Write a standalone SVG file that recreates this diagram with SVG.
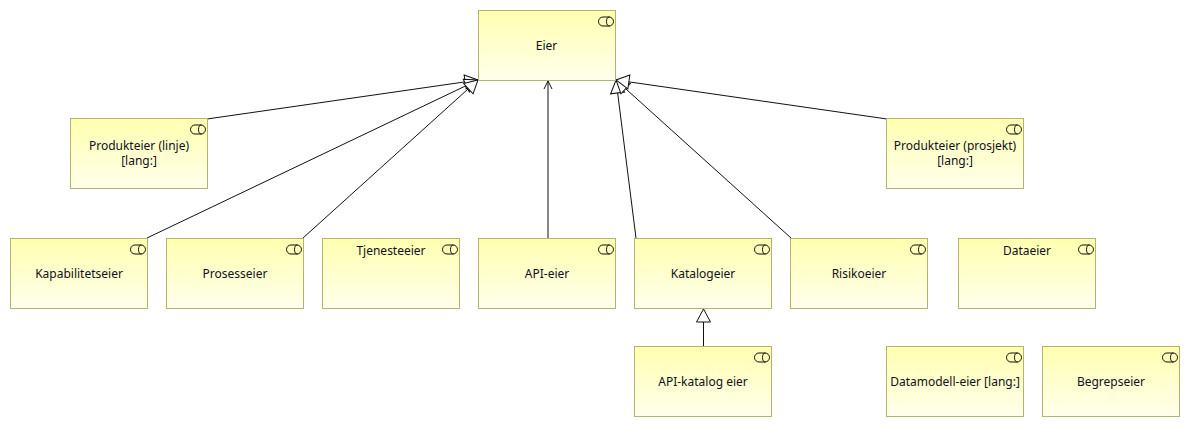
<svg xmlns="http://www.w3.org/2000/svg" width="1190" height="427" viewBox="0 0 1190 427">
<style>
.box{fill:url(#g);stroke:#b4b46e;stroke-width:1}
.ic{fill:none;stroke:#111;stroke-width:1}
.t{font-family:"Noto Sans","DejaVu Sans",sans-serif;font-size:12px;fill:#101020;text-anchor:middle}
.c{fill:none;stroke:#111;stroke-width:1}
</style>
<defs>
<linearGradient id="g" x1="0" y1="0" x2="0" y2="1"><stop offset="0" stop-color="#ffffb0"/><stop offset="1" stop-color="#ffffec"/></linearGradient>
<marker id="tri" markerUnits="userSpaceOnUse" markerWidth="16" markerHeight="18" refX="13" refY="8" orient="auto" overflow="visible"><path d="M0 1L13 8L0 15Z" fill="#fff" stroke="#111" stroke-width="1"/></marker>
<marker id="open" markerUnits="userSpaceOnUse" markerWidth="10" markerHeight="12" refX="8" refY="5" orient="auto" overflow="visible"><path d="M0 1L8 5L0 9" fill="none" stroke="#111" stroke-width="1"/></marker>
<g id="ico"><rect class="ic" x="-14.5" y="-4.5" width="15" height="9" rx="4.5"/><path class="ic" d="M-3.5-4.500A3 4.500 0 0 0-3.500 4.500"/></g>
</defs>
<g id="connectors">
<path class="c" d="M207 119L478 80" marker-end="url(#tri)"/>
<path class="c" d="M147 238L478 80" marker-end="url(#tri)"/>
<path class="c" d="M303 238L478 80" marker-end="url(#tri)"/>
<path class="c" d="M548 238V81" marker-end="url(#open)"/>
<path class="c" d="M636 238L616 80" marker-end="url(#tri)"/>
<path class="c" d="M791 238L616 80" marker-end="url(#tri)"/>
<path class="c" d="M887 119L616 80" marker-end="url(#tri)"/>
<path class="c" d="M703.500 346V309" marker-end="url(#tri)"/>
</g>
<g id="eier"><rect class="box" x="478.500" y="10.500" width="137" height="70"/><use href="#ico" x="613" y="21.500"/><text class="t" x="546.500" y="50">Eier</text></g>
<g id="produkteier-linje"><rect class="box" x="70.500" y="118.500" width="137" height="70"/><use href="#ico" x="205" y="129.500"/><text class="t" x="139" y="150">Produkteier (linje)</text><text class="t" x="139" y="165">[lang:]</text></g>
<g id="produkteier-prosjekt"><rect class="box" x="886.500" y="118.500" width="137" height="70"/><use href="#ico" x="1021" y="129.500"/><text class="t" x="955" y="150">Produkteier (prosjekt)</text><text class="t" x="955" y="165">[lang:]</text></g>
<g id="kapabilitetseier"><rect class="box" x="10.500" y="238.500" width="137" height="70"/><use href="#ico" x="145" y="249.500"/><text class="t" x="79" y="278">Kapabilitetseier</text></g>
<g id="prosesseier"><rect class="box" x="166.500" y="238.500" width="137" height="70"/><use href="#ico" x="301" y="249.500"/><text class="t" x="235" y="278">Prosesseier</text></g>
<g id="tjenesteeier"><rect class="box" x="322.500" y="238.500" width="137" height="70"/><use href="#ico" x="457" y="249.500"/><text class="t" x="391" y="255">Tjenesteeier</text></g>
<g id="api-eier"><rect class="box" x="478.500" y="238.500" width="137" height="70"/><use href="#ico" x="613" y="249.500"/><text class="t" x="547" y="278">API-eier</text></g>
<g id="katalogeier"><rect class="box" x="634.500" y="238.500" width="137" height="70"/><use href="#ico" x="769" y="249.500"/><text class="t" x="703" y="278">Katalogeier</text></g>
<g id="risikoeier"><rect class="box" x="790.500" y="238.500" width="137" height="70"/><use href="#ico" x="925" y="249.500"/><text class="t" x="859" y="278">Risikoeier</text></g>
<g id="dataeier"><rect class="box" x="958.500" y="238.500" width="137" height="70"/><use href="#ico" x="1093" y="249.500"/><text class="t" x="1027" y="255">Dataeier</text></g>
<g id="api-katalog-eier"><rect class="box" x="634.500" y="346.500" width="137" height="70"/><use href="#ico" x="769" y="357.500"/><text class="t" x="703" y="386">API-katalog eier</text></g>
<g id="datamodell-eier"><rect class="box" x="886.500" y="346.500" width="137" height="70"/><use href="#ico" x="1021" y="357.500"/><text class="t" x="955" y="386">Datamodell-eier [lang:]</text></g>
<g id="begrepseier"><rect class="box" x="1042.500" y="346.500" width="137" height="70"/><use href="#ico" x="1177" y="357.500"/><text class="t" x="1111" y="386">Begrepseier</text></g>
</svg>
